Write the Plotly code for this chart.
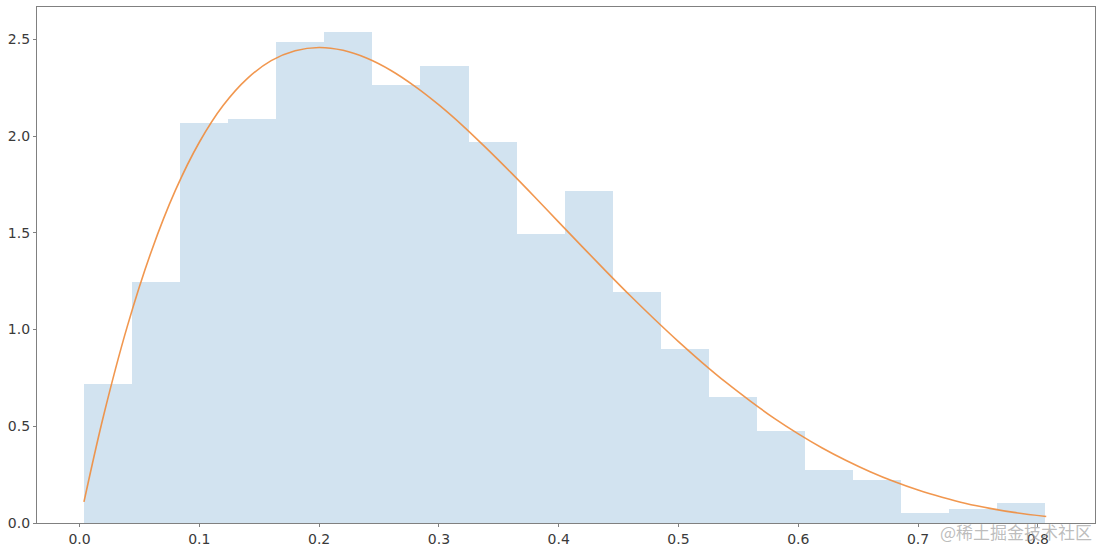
import plotly.graph_objects as go

# Histogram (density)
bin_start = 0.0037
bin_width = 0.04013
bin_heights = [0.72, 1.245, 2.066, 2.09, 2.487, 2.54, 2.264, 2.363, 1.967, 1.494,
               1.717, 1.194, 0.898, 0.651, 0.477, 0.274, 0.222, 0.053, 0.074, 0.105]

# Fitted density curve
curve_x = [0.0037, 0.02, 0.04, 0.06, 0.08, 0.10, 0.12, 0.14, 0.16, 0.18, 0.20,
           0.22, 0.24, 0.26, 0.28, 0.30, 0.32, 0.34, 0.36, 0.38, 0.40, 0.42,
           0.44, 0.46, 0.48, 0.50, 0.52, 0.54, 0.56, 0.58, 0.60, 0.62, 0.64,
           0.66, 0.68, 0.70, 0.72, 0.74, 0.76, 0.78, 0.807]
curve_y = [0.109, 0.553, 1.019, 1.405, 1.719, 1.968, 2.159, 2.297, 2.390, 2.441, 2.458,
           2.443, 2.402, 2.339, 2.257, 2.161, 2.053, 1.935, 1.812, 1.685, 1.555, 1.426,
           1.298, 1.173, 1.053, 0.9375, 0.828, 0.725, 0.630, 0.541, 0.461, 0.388, 0.323,
           0.265, 0.214, 0.170, 0.133, 0.101, 0.0757, 0.0548, 0.034]

x_ticks = [0.0, 0.1, 0.2, 0.3, 0.4, 0.5, 0.6, 0.7, 0.8]
y_ticks = [0.0, 0.5, 1.0, 1.5, 2.0, 2.5]

bin_centers = [bin_start + bin_width * (i + 0.5) for i in range(len(bin_heights))]

fig = go.Figure()
fig.add_trace(go.Bar(
    x=bin_centers, y=bin_heights, width=[bin_width] * len(bin_heights),
    marker=dict(color="#d2e3f0", line=dict(width=0)),
    hoverinfo="skip",
))
fig.add_trace(go.Scatter(
    x=curve_x, y=curve_y, mode="lines",
    line=dict(color="rgba(240,140,60,0.9)", width=1.6, shape="spline"),
))

axis_common = dict(
    showline=True, mirror=True, linecolor="#808080", linewidth=1.2,
    ticks="outside", ticklen=3, tickcolor="#808080", tickwidth=1,
    showgrid=False, zeroline=False, automargin=False,
    tickfont=dict(family="DejaVu Sans", size=14, color="#3a3a3a"),
)

fig.update_layout(
    width=1101, height=550,
    margin=dict(l=37, r=6, t=7, b=27),
    paper_bgcolor="white", plot_bgcolor="white",
    showlegend=False, bargap=0,
    xaxis=dict(range=[-0.0355, 0.8477], tickvals=x_ticks,
               ticktext=[f"{v:.1f}" for v in x_ticks], **axis_common),
    yaxis=dict(range=[0, 2.667], tickvals=y_ticks,
               ticktext=[f"{v:.1f}" for v in y_ticks], **axis_common),
)

fig.add_annotation(
    text="@稀土掘金技术社区", xref="paper", yref="paper",
    x=0.999, y=-0.0174, xanchor="right", yanchor="middle", showarrow=False,
    font=dict(family="Noto Sans CJK SC", size=17, color="rgba(160,160,160,0.7)"),
)

fig.write_html("out.html", config={"displayModeBar": False},
               post_script="document.body.style.margin='0';document.body.style.overflow='hidden';")
